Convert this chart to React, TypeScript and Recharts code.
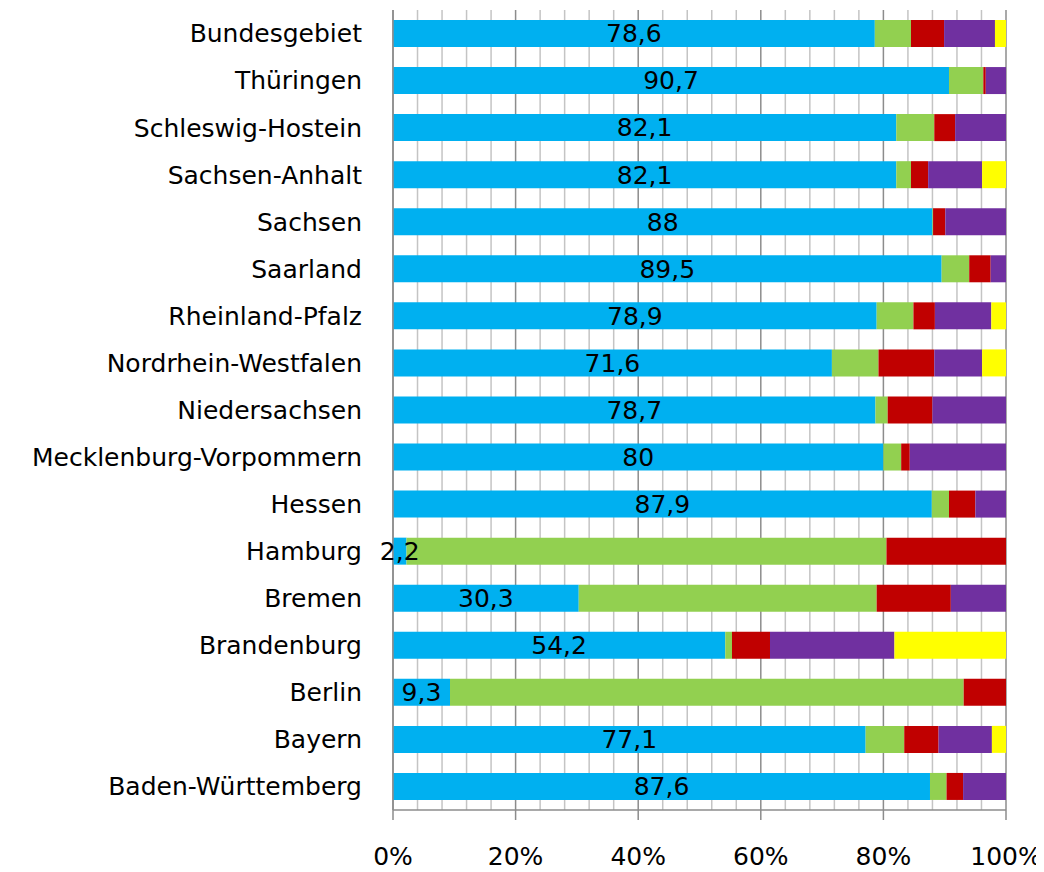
import React from 'react';
import { BarChart, Bar, XAxis, YAxis, CartesianGrid, LabelList } from 'recharts';

const states = ['Bundesgebiet', 'Thüringen', 'Schleswig-Hostein', 'Sachsen-Anhalt', 'Sachsen', 'Saarland', 'Rheinland-Pfalz', 'Nordrhein-Westfalen', 'Niedersachsen', 'Mecklenburg-Vorpommern', 'Hessen', 'Hamburg', 'Bremen', 'Brandenburg', 'Berlin', 'Bayern', 'Baden-Württemberg'];
const blueValues = [78.6, 90.7, 82.1, 82.1, 88, 89.5, 78.9, 71.6, 78.7, 80, 87.9, 2.2, 30.3, 54.2, 9.3, 77.1, 87.6];
const greenValues = [5.9, 5.6, 6.2, 2.4, 0.1, 4.5, 6.0, 7.6, 2.0, 2.9, 2.8, 78.3, 48.6, 1.1, 83.8, 6.3, 2.7];
const redValues = [5.4, 0.4, 3.4, 2.8, 2.0, 3.5, 3.5, 9.1, 7.3, 1.4, 4.3, 19.5, 12.1, 6.2, 6.9, 5.6, 2.7];
const purpleValues = [8.3, 3.3, 8.3, 8.8, 9.9, 2.5, 9.2, 7.8, 12.0, 15.7, 5.0, 0, 9.0, 20.3, 0, 8.7, 7.0];
const yellowValues = [1.8, 0, 0, 3.9, 0, 0, 2.4, 3.9, 0, 0, 0, 0, 0, 18.2, 0, 2.3, 0];
const majorTicks = [0, 20, 40, 60, 80, 100];
const minorTicks = [4, 8, 12, 16, 24, 28, 32, 36, 44, 48, 52, 56, 64, 68, 72, 76, 84, 88, 92, 96];

const data = states.map((name, i) => ({
  name,
  blue: blueValues[i],
  green: greenValues[i],
  red: redValues[i],
  purple: purpleValues[i],
  yellow: yellowValues[i],
}));

const fmtLabel = (v: any) => String(v).replace('.', ',');

export default function App() {
  return (
    <div style={{ fontFamily: '"DejaVu Sans", sans-serif', width: 1030, height: 862 }}>
      <BarChart
        width={1030}
        height={862}
        data={data}
        layout="vertical"
        margin={{ top: 2, right: 32, bottom: 10, left: 0 }}
        barSize={27}
        style={{ overflow: 'visible' }}
      >
        <CartesianGrid horizontal={false} verticalValues={minorTicks} stroke="#c4c4c4" strokeWidth={1.5} />
        <CartesianGrid horizontal={false} verticalValues={majorTicks} stroke="#8c8c8c" strokeWidth={1.5} />
        <XAxis
          type="number"
          domain={[0, 100]}
          ticks={majorTicks}
          interval={0}
          tickFormatter={(v: number) => `${v}%`}
          height={50}
          tickSize={10}
          tickMargin={27}
          axisLine={{ stroke: '#8c8c8c', strokeWidth: 1.5 }}
          tickLine={{ stroke: '#8c8c8c', strokeWidth: 1.5 }}
          tick={{ fontSize: 25, fill: '#000' }}
        />
        <YAxis
          type="category"
          dataKey="name"
          width={385}
          interval={0}
          tickSize={0}
          tickMargin={31}
          tickLine={false}
          axisLine={{ stroke: '#8c8c8c', strokeWidth: 1.5 }}
          tick={{ fontSize: 25, fill: '#000' }}
        />
        <Bar dataKey="blue" stackId="s" fill="#00B0F0" isAnimationActive={false}>
          <LabelList dataKey="blue" position="center" formatter={fmtLabel} fill="#000" fontSize={25} />
        </Bar>
        <Bar dataKey="green" stackId="s" fill="#92D050" isAnimationActive={false} />
        <Bar dataKey="red" stackId="s" fill="#C00000" isAnimationActive={false} />
        <Bar dataKey="purple" stackId="s" fill="#7030A0" isAnimationActive={false} />
        <Bar dataKey="yellow" stackId="s" fill="#FFFF00" isAnimationActive={false} />
      </BarChart>
    </div>
  );
}
